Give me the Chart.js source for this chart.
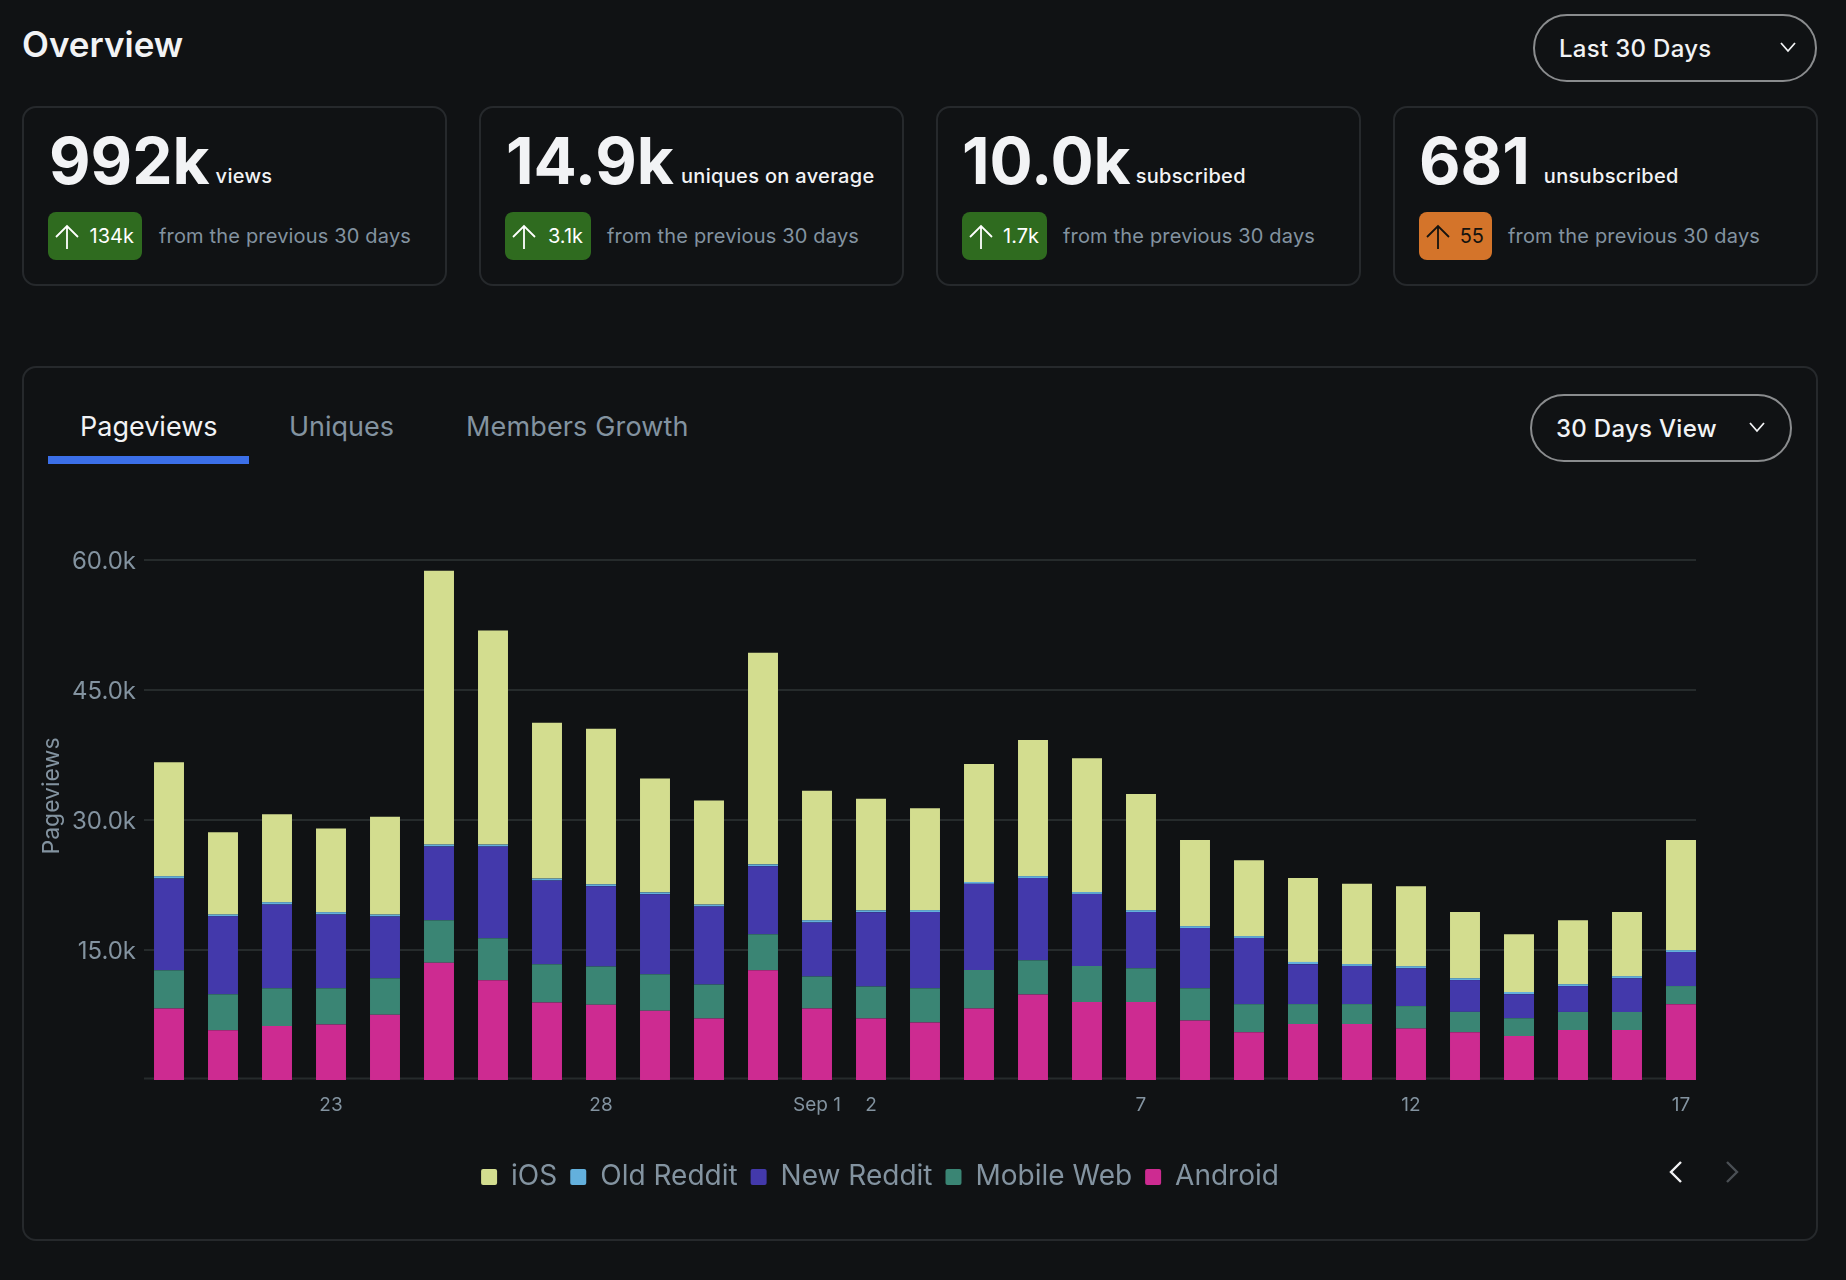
<!DOCTYPE html>
<html lang="en">

<head>
    <meta charset="UTF-8">
    <title>Overview</title>
    <script src="https://cdn.jsdelivr.net/npm/chart.js"></script>
    <style>
        * { box-sizing: border-box; }

        body {
            margin: 0;
            width: 1846px;
            height: 1280px;
            position: relative;
            overflow: hidden;
            background: #101214;
            color: #f2f3f5;
            font-family: Inter, "Noto Sans", sans-serif;
        }

        .abs { position: absolute; white-space: nowrap; }

        .card {
            position: absolute;
            top: 106px;
            height: 180px;
            width: 425px;
            border: 2px solid #26292c;
            border-radius: 14px;
        }

        .big { position: absolute; top: 21px; font-size: 64px; line-height: 64px; font-weight: 700; white-space: nowrap; }
        .sub { position: relative; top: -1px; font-size: 20px; font-weight: 500; letter-spacing: 0.32px; margin-left: 7px; }

        .badge {
            position: absolute;
            top: 104px;
            height: 48px;
            border-radius: 8px;
            font-size: 20px;
            line-height: 48px;
            white-space: nowrap;
        }

        .badge svg { position: absolute; left: 6px; top: 12px; }
        .badge span { position: absolute; right: 8px; }
        .green { background: #2f6b1f; color: #fff; }
        .orange { background: #d4742a; color: #15130f; }

        .from {
            position: absolute;
            top: 104px;
            line-height: 48px;
            font-size: 20px;
            letter-spacing: 0.17px;
            color: #8393a0;
            white-space: nowrap;
        }

        .panel {
            position: absolute;
            left: 22px;
            top: 366px;
            width: 1796px;
            height: 875px;
            border: 2px solid #26292c;
            border-radius: 14px;
        }

        .select {
            position: absolute;
            height: 68px;
            border: 2px solid #8a8c8e;
            border-radius: 34px;
            font-size: 24px;
            font-weight: 500;
            line-height: 65px;
            letter-spacing: 0.3px;
            padding-left: 24px;
            white-space: nowrap;
        }

        .select svg { position: absolute; top: 24px; }
        .tab { position: absolute; top: 408px; font-size: 27px; line-height: 38px; color: #8393a0; white-space: nowrap; }

        #grafico { position: absolute; left: 40px; top: 500px; }
    </style>
</head>

<body>
    <div class="abs" style="left:22px; top:21px; font-size:35px; line-height:46px; font-weight:600;">Overview</div>
    <div class="select" style="left:1533px; top:14px; width:284px;">Last 30 Days
        <svg style="left:245px;" width="16" height="14" viewBox="0 0 16 14" fill="none" stroke="#f2f3f5" stroke-width="1.8"><path d="M1 3l7 8 7-8" /></svg>
    </div>

    <div class="card" style="left:22px;">
        <div class="big" style="left:25px;">992k<span class="sub" style="margin-left:6px;">views</span></div>
        <div class="badge green" style="left:24px; width:94px;"><svg width="26" height="26" viewBox="0 0 26 26" fill="none" stroke="#fff" stroke-width="1.8"><path d="M13 25V2M2 13L13 2l11 11" /></svg><span>134k</span></div>
        <div class="from" style="left:135px;">from the previous 30 days</div>
    </div>
    <div class="card" style="left:479px;">
        <div class="big" style="left:25px;">14.9k<span class="sub">uniques on average</span></div>
        <div class="badge green" style="left:24px; width:86px;"><svg width="26" height="26" viewBox="0 0 26 26" fill="none" stroke="#fff" stroke-width="1.8"><path d="M13 25V2M2 13L13 2l11 11" /></svg><span>3.1k</span></div>
        <div class="from" style="left:126px;">from the previous 30 days</div>
    </div>
    <div class="card" style="left:936px;">
        <div class="big" style="left:24px;">10.0k<span class="sub" style="margin-left:5px;">subscribed</span></div>
        <div class="badge green" style="left:24px; width:85px;"><svg width="26" height="26" viewBox="0 0 26 26" fill="none" stroke="#fff" stroke-width="1.8"><path d="M13 25V2M2 13L13 2l11 11" /></svg><span>1.7k</span></div>
        <div class="from" style="left:125px;">from the previous 30 days</div>
    </div>
    <div class="card" style="left:1393px;">
        <div class="big" style="left:24px;">681<span class="sub" style="margin-left:14px;">unsubscribed</span></div>
        <div class="badge orange" style="left:24px; width:73px;"><svg width="26" height="26" viewBox="0 0 26 26" fill="none" stroke="#15130f" stroke-width="1.8"><path d="M13 25V2M2 13L13 2l11 11" /></svg><span>55</span></div>
        <div class="from" style="left:113px;">from the previous 30 days</div>
    </div>

    <div class="panel"></div>
    <div class="tab" style="left:80px; color:#f2f3f5;">Pageviews</div>
    <div class="tab" style="left:289px;">Uniques</div>
    <div class="tab" style="left:466px; letter-spacing:0.15px;">Members Growth</div>
    <div class="abs" style="left:48px; top:456px; width:201px; height:8px; background:#3b6fe8;"></div>
    <div class="select" style="left:1530px; top:394px; width:262px;">30 Days View
        <svg style="left:217px;" width="16" height="14" viewBox="0 0 16 14" fill="none" stroke="#f2f3f5" stroke-width="1.8"><path d="M1 3l7 8 7-8" /></svg>
    </div>

    <canvas id="grafico" width="1704" height="701"></canvas>

    <svg class="abs" style="left:1668px; top:1160px;" width="16" height="24" viewBox="0 0 16 24" fill="none" stroke="#f2f3f5" stroke-width="2.4"><path d="M13 2L3 12l10 10" /></svg>
    <svg class="abs" style="left:1724px; top:1160px;" width="16" height="24" viewBox="0 0 16 24" fill="none" stroke="#4a4f54" stroke-width="2.4"><path d="M3 2l10 10L3 22" /></svg>

    <script>
        // dias de 20 ago a 17 set
        const categorias = ['20', '21', '22', '23', '24', '25', '26', '27', '28', '29', '30', '31', 'Sep 1', '2', '3', '4', '5', '6', '7', '8', '9', '10', '11', '12', '13', '14', '15', '16', '17'];
        const ticksX = ['23', '28', 'Sep 1', '2', '7', '12', '17'];
        const ticksY = ['', '15.0k', '30.0k', '45.0k', '60.0k'];

        const ios = [13150, 9480, 10140, 9660, 11290, 31580, 24700, 17990, 17950, 13140, 12000, 24430, 14950, 12880, 11750, 13620, 15710, 15450, 13400, 9950, 8750, 9690, 9260, 9220, 7640, 6660, 7390, 7390, 12720];
        const oldReddit = [265, 220, 265, 265, 220, 220, 220, 220, 220, 220, 220, 220, 265, 220, 220, 215, 215, 215, 215, 215, 215, 255, 215, 255, 215, 255, 215, 255, 215];
        const newReddit = [10590, 9000, 9660, 8510, 7140, 8510, 10580, 9660, 9260, 9220, 9000, 7850, 6220, 8560, 8790, 9950, 9480, 8320, 6490, 6960, 7640, 4610, 4400, 4350, 3670, 2770, 2990, 3880, 3930];
        const mobileWeb = [4410, 4150, 4370, 4190, 4190, 4900, 4850, 4410, 4410, 4230, 3920, 4150, 3700, 3700, 3950, 4440, 3970, 4140, 3880, 3710, 3240, 2310, 2310, 2600, 2350, 2050, 2090, 2090, 2090];
        const android = [8250, 5730, 6220, 6400, 7540, 13540, 11510, 8950, 8690, 7980, 7100, 12660, 8250, 7100, 6640, 8240, 9860, 9010, 9010, 6870, 5510, 6450, 6450, 5930, 5510, 5080, 5760, 5760, 8750];

        const corGrade = '#262b2c';
        const corTexto = '#8393a0';

        // a grade termina na ultima barra e o titulo do eixo nao fica centrado,
        // por isso os dois sao desenhados aqui e nao pelas opcoes da escala
        const gradeETitulo = {
            id: 'gradeETitulo',
            beforeDatasetsDraw(chart) {
                const { ctx, chartArea } = chart;
                const y = chart.scales.y;
                ctx.save();
                ctx.strokeStyle = corGrade;
                ctx.lineWidth = 2;
                y.ticks.forEach(function (tick, i) {
                    const py = y.getPixelForTick(i) - (tick.value === 0 ? 1.5 : 0);
                    ctx.beginPath();
                    ctx.moveTo(chartArea.left + 2, py);
                    ctx.lineTo(chartArea.right - 12, py);
                    ctx.stroke();
                });
                ctx.translate(12, 296);
                ctx.rotate(-Math.PI / 2);
                ctx.fillStyle = corTexto;
                ctx.font = '23px Inter';
                ctx.textAlign = 'center';
                ctx.textBaseline = 'middle';
                ctx.fillText(y.options.title.text, 0, 0);
                ctx.restore();
            }
        };

        function serie(label, data, cor, ordem) {
            return {
                label: label,
                data: data,
                backgroundColor: cor,
                borderWidth: 0,
                order: ordem,
                categoryPercentage: 1,
                barPercentage: 0.555
            };
        }

        new Chart(document.getElementById('grafico').getContext('2d'), {
            type: 'bar',
            data: {
                labels: categorias,
                datasets: [
                    serie('iOS', ios, '#d3dd8f', 5),
                    serie('Old Reddit', oldReddit, '#63b0dd', 4),
                    serie('New Reddit', newReddit, '#4339ab', 3),
                    serie('Mobile Web', mobileWeb, '#3a8574', 2),
                    serie('Android', android, '#cd2b91', 1)
                ]
            },
            plugins: [gradeETitulo],
            options: {
                responsive: false,
                animation: false,
                layout: { padding: { top: 60, left: 12, right: 36 } },
                plugins: {
                    tooltip: { enabled: false },
                    legend: {
                        position: 'bottom',
                        labels: {
                            color: corTexto,
                            font: { family: 'Inter', size: 28 },
                            boxWidth: 16,
                            boxHeight: 16,
                            useBorderRadius: true,
                            borderRadius: 2,
                            padding: 13,
                            sort: (a, b) => a.datasetIndex - b.datasetIndex
                        }
                    }
                },
                scales: {
                    x: {
                        stacked: true,
                        afterFit(scale) { scale.height = 70; },
                        border: { display: false },
                        grid: { display: false, drawTicks: false },
                        ticks: {
                            color: corTexto,
                            font: { family: 'Inter', size: 19 },
                            padding: 14,
                            autoSkip: false,
                            maxRotation: 0,
                            callback(valor, i) {
                                return ticksX.includes(categorias[i]) ? categorias[i] : '';
                            }
                        }
                    },
                    y: {
                        stacked: true,
                        min: 0,
                        max: 60000,
                        afterFit(scale) { scale.width = 90; },
                        title: { display: false, text: 'Pageviews' },
                        border: { display: false },
                        grid: { display: false, drawTicks: false },
                        ticks: {
                            stepSize: 15000,
                            color: corTexto,
                            font: { family: 'Inter', size: 24 },
                            padding: 6,
                            labelOffset: 2,
                            callback(valor, i) { return ticksY[i]; }
                        }
                    }
                }
            }
        });
    </script>
</body>

</html>
